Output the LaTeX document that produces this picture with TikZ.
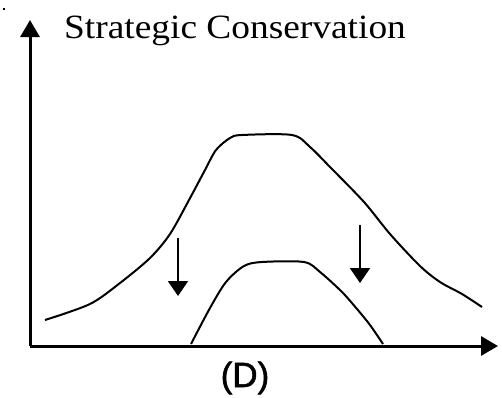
\documentclass[tikz,border=0pt]{standalone}
\usepackage{fontspec}
\setmainfont{Liberation Serif}
\newfontfamily\labsans{Liberation Sans}
\usetikzlibrary{arrows.meta}
\begin{document}
\begin{tikzpicture}[x=1pt,y=-1pt,
  axis/.style={line width=3pt,-{Triangle[width=19pt,length=17pt]}},
  curve/.style={line width=2pt,line join=round},
  drop/.style={line width=2pt,-{Triangle[width=20pt,length=15pt]}}]
\useasboundingbox (0,0) rectangle (502,397);
% speck
\fill (3,8) rectangle (5,10);
% axes
\coordinate (O) at (30,346);
\coordinate (Ytip) at (30,20);
\coordinate (Xtip) at (498,346);
\draw[axis] (O) -- (Ytip);
\draw[axis] (O) -- (Xtip);
% title
\node[anchor=base west,inner sep=0pt,font=\addfontfeature{FakeStretch=1.1}\fontsize{34}{40}\selectfont] (title) at (64,38) {Strategic Conservation};
% label
\node[anchor=base,inner sep=0pt,font=\labsans\addfontfeature{FakeBold=1.5}\fontsize{35}{40}\selectfont] (D) at (245,387) {(D)};
% outer curve
\draw[curve] plot[smooth,tension=0.5] coordinates {(45,320) (90,304) (120,283) (150,258) (170,234) (189,200) (205,170) (216,150) (230,138) (242,135) (292,135) (310,147) (330,167) (364,202) (390,234) (420,266) (440,282) (462,294) (482,307)};
% inner curve
\draw[curve] plot[smooth,tension=0.5] coordinates {(191,344) (210,308) (226,282) (244,266) (262,262) (304,262) (320,272) (342,292) (357,309) (370,325) (383,344)};
% drop arrows
\coordinate (L1) at (178,238);
\coordinate (L2) at (178,296);
\coordinate (R1) at (360,225);
\coordinate (R2) at (360,283);
\draw[drop] (L1) -- (L2);
\draw[drop] (R1) -- (R2);
\end{tikzpicture}
\end{document}
